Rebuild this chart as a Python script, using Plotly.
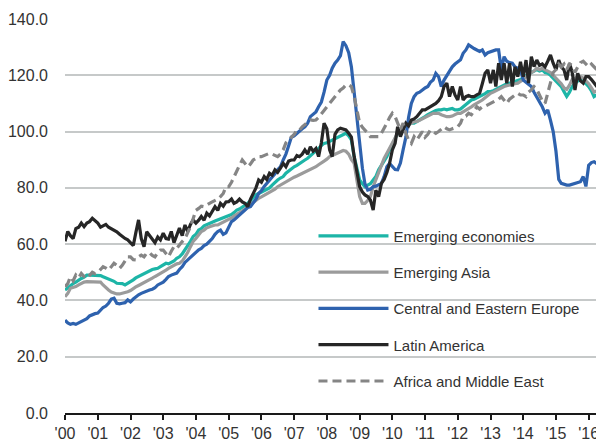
import pandas as pd
import plotly.graph_objects as go

# monthly index values, Jan 2000 - Jun 2016 (one row per year)
emerging_economies = [
    43.7, 44.5, 45.5, 46, 46.5, 47.3, 47.8, 48.3, 49, 49, 49, 49,
    49, 48.8, 48.4, 48, 47.5, 47.3, 46.8, 46.1, 46, 46, 45.5, 46,
    46.5, 47.3, 48, 48.5, 49, 49.5, 50.2, 50.5, 51, 51.2, 51.4, 52,
    52.5, 53.2, 53, 53.5, 54, 55, 55.5, 56.5, 57.9, 59.5, 61, 62.7,
    63.5, 65, 65.5, 66.5, 67, 67.4, 67.8, 68.2, 68.6, 69, 69.5, 69.8,
    70, 70.5, 71.2, 72.1, 72.5, 73, 73.8, 74.5, 75.5, 76.5, 77.5, 78,
    78.5, 78.8, 79.2, 80, 81, 82, 82.8, 83.5, 84, 85.2, 86, 86.5,
    87.5, 88, 88.5, 89.2, 89.9, 90.5, 91.3, 92.3, 93, 94, 95, 95.8,
    96, 96.5, 97, 97.5, 98, 98.2, 99, 99.4, 98.5, 97, 91.1, 86.4,
    82.8, 81.5, 80.4, 81, 81.5, 82.8, 84, 86.4, 88, 90, 91.1, 93.5,
    95.8, 97.5, 99.4, 100.5, 101.7, 102, 102.5, 103, 103, 103.5, 104, 104.5,
    105.3, 106, 106.5, 107, 107.5, 107.7, 107.7, 108, 107.7, 108, 108.2, 107.7,
    107.7, 108, 108.8, 109.5, 110.5, 111.2, 111.5, 112, 112.4, 113, 113.5, 114.2,
    114.2, 114.5, 115, 115.5, 116, 116.5, 117, 117.2, 117.5, 117.8, 118, 118.5,
    119, 120, 120.5, 121, 121.5, 122, 121.5, 121.9, 121, 120.7, 120, 119,
    118, 117, 116, 114.2, 112.5, 114, 116, 117.2, 118, 118.3, 118, 117,
    116, 114.5, 112.4, 113, 113.6, 113,
]

emerging_asia = [
    41.3, 42.5, 44.3, 44.5, 44.9, 45.5, 46.1, 46.5, 46.7, 46.7, 46.7, 46.5,
    46.7, 46.5, 45.5, 44.5, 43.7, 43, 42.5, 42.3, 42.3, 42.5, 43, 43.1,
    43.5, 44.3, 44.8, 45.3, 45.8, 46.1, 46.7, 47.3, 47.9, 48.5, 49, 49.5,
    50, 50.8, 51.4, 52, 52.5, 53, 53.2, 54, 55.5, 57, 59.1, 61,
    62, 63.5, 64.5, 65, 65.8, 66.2, 66.5, 66.8, 66.8, 67.3, 67.8, 68.2,
    68.6, 69.3, 70, 70.5, 71, 71.8, 72.5, 73.3, 74, 75, 75.8, 76.3,
    76.8, 77.3, 78, 78.5, 79, 79.5, 80.4, 81, 81.5, 82.3, 82.8, 83.3,
    83.8, 84.2, 84.6, 85, 85.5, 86, 86.4, 87, 87.5, 88.2, 88.7, 89.5,
    90.2, 91.1, 91.5, 92, 92.5, 93, 93.3, 93, 92, 90, 88.7, 82.8,
    76.9, 74.5, 74.5, 75.5, 76.9, 80.4, 83, 86, 88.7, 90.5, 92.3, 94,
    95.8, 97.5, 99.4, 100.5, 101.7, 102, 102.5, 103, 103.5, 103.5, 104, 104.5,
    105.3, 105.5, 106, 106.5, 106.5, 106.5, 106, 105.5, 105.3, 105.3, 105.5, 106,
    106.5, 106.5, 107, 107.5, 108, 108.8, 109.5, 110, 110.5, 111.2, 112, 112.8,
    113.6, 114, 114.5, 115, 115.5, 116, 116.3, 116.6, 116.8, 117, 117.2, 117.8,
    118.5, 119.5, 120, 121, 121.5, 122.5, 122, 122.5, 122, 121.5, 121, 120,
    119, 118, 117, 115.5, 115, 116.5, 118.5, 119, 119.5, 119.5, 119, 118,
    117, 115.5, 114, 114.5, 115, 115,
]

central_eastern_europe = [
    33, 32, 31.5, 31.8, 31.5, 32, 32.5, 32.8, 33.5, 34.5, 35, 35.3,
    35.5, 36.5, 37.5, 38, 39, 40.5, 40.8, 39, 38.8, 39, 39.2, 40.2,
    39.5, 40.5, 41.3, 42, 42.5, 43, 43.5, 43.7, 44, 44.5, 45.5, 46,
    46.5, 47.5, 48.5, 49, 49.5, 49.7, 51, 52, 53.5, 54.4, 55.5, 56.2,
    57, 58, 58.5, 59.5, 60, 60.9, 62, 63.5, 64.5, 65, 63.5, 64,
    66, 68, 68.6, 69.5, 70.5, 71.5, 72, 73, 73.3, 74.5, 76, 78,
    79, 80.5, 81.5, 82.8, 84, 85, 86.4, 87.5, 89.9, 92, 95, 98,
    98.5, 99.5, 100, 101, 101.7, 103, 105.3, 106, 107, 108.8, 110.5, 114,
    118.3, 120, 122.5, 124.3, 125.4, 127, 132, 130.5, 128, 123, 113.5, 105,
    95, 87, 81.5, 79.2, 79.5, 80.4, 80.6, 81, 81.6, 84, 87.5, 88.7,
    87.5, 86.5, 86.4, 88.8, 93.5, 98, 105, 110, 112.4, 113.6, 114, 114.8,
    115.5, 116, 117.5, 118.3, 120.7, 119.5, 116, 118.3, 120, 121.5, 123, 124,
    124.8, 125.5, 127.8, 129, 130.8, 130, 129.5, 129, 128.5, 129, 127.2, 128,
    128.4, 128.8, 129, 129, 122, 126.6, 125, 124.5, 124.3, 123, 122.5, 122,
    118.3, 117.5, 116.5, 116, 114, 112.4, 110.5, 108.8, 106.5, 107.7, 104, 100,
    93, 83, 81.6, 81.3, 81, 81, 81.3, 81.6, 81.8, 82.2, 84, 80.5,
    88, 89, 89.3, 88.7, 88, 88,
]

latin_america = [
    61, 64.5, 63, 62, 65.5, 66, 67.5, 66.2, 67.5, 68, 69.2, 68.5,
    67.5, 66, 66.5, 67, 66, 65.5, 65, 64.4, 63.5, 62.7, 62, 61.5,
    60.5, 59.5, 64, 68.6, 62, 59.1, 64.4, 63, 61.8, 60.5, 62.5, 61.5,
    63.9, 62, 61.8, 64.5, 60.5, 63, 65.7, 63, 66.8, 64.5, 67, 68.6,
    67.5, 68.5, 69.8, 68.5, 71, 70, 71.5, 73.3, 72, 74.5, 73.5, 75,
    75.1, 76, 74.5, 75, 76, 75, 74.5, 73.3, 76, 78, 80, 82.8,
    82, 84, 83, 85.2, 84.5, 86.4, 85.5, 87, 88.7, 87.5, 89.5, 89.9,
    89.9, 91.5, 91.1, 92, 93.5, 92, 94.6, 93, 94, 91.1, 96, 103,
    101, 93.5, 91.1, 99, 100.6, 101.2, 101, 100.6, 99.4, 98, 91.1, 86,
    80.4, 78.5, 77.5, 76.9, 75.7, 72.1, 79.2, 76.9, 81.6, 83, 85.5, 88.7,
    93.5, 95.8, 101.7, 98.2, 100.6, 103, 102, 104.1, 104.5, 105.3, 106.5, 107.7,
    107.7, 108.3, 108.8, 109.5, 110, 111, 112.4, 116, 117.2, 112.4, 116, 113,
    111.2, 116, 111.2, 112.4, 112.8, 112.4, 112.4, 113, 113.6, 117, 120.7, 121.9,
    117.2, 121.9, 116, 124.3, 118.3, 124.3, 117.2, 124.3, 116, 123, 119.5, 124.8,
    119.5, 125.4, 117.2, 126.6, 123.1, 125.4, 123.5, 124, 123, 125, 127.2, 124.3,
    121.9, 125.4, 123, 121.9, 118.3, 124.3, 121, 114.8, 120.7, 118, 117.2, 119.5,
    119.5, 118.5, 117.2, 116, 118.3, 117,
]

africa_middle_east = [
    44.9, 46, 48.4, 47, 49, 48, 49.6, 48.5, 47.9, 49, 50, 49.5,
    50, 51, 52, 51.5, 50.8, 52, 53.2, 52.5, 51.4, 52.5, 54, 55.5,
    55.5, 54.5, 54.4, 55.5, 56.1, 55.5, 56.8, 57, 56, 55.5, 57, 57.9,
    57.9, 56.5, 55.5, 57.5, 59.1, 58.5, 59.5, 60.9, 62, 64, 66.2, 69,
    72, 72.7, 73.5, 73.3, 74, 74.5, 75, 75.5, 76, 76.9, 78, 80.4,
    80.4, 82, 84, 86.4, 88, 89.9, 88.5, 87.5, 88.5, 89.9, 90.5, 91.1,
    91.1, 91.5, 92, 92.3, 92, 91.5, 91.1, 92, 93.5, 96, 97, 98.2,
    99, 100.6, 100.5, 101.7, 102.5, 103, 104.1, 104, 104.1, 105, 106.5, 107.5,
    108.8, 110, 111, 112.4, 113.5, 114.8, 115.5, 116.6, 116.6, 116, 112.4, 107.7,
    103, 101.5, 100.6, 99.4, 98.2, 98.2, 98.2, 98.2, 99.4, 101, 103, 105,
    106.5, 105.3, 103, 100.6, 103, 99.4, 97, 95.8, 98.2, 97, 98.5, 100,
    98, 99, 100.6, 100, 99.4, 100, 101, 101.7, 101, 100.6, 101, 101.5,
    101.7, 103, 105.3, 105.5, 106.5, 106, 107.5, 108.8, 108, 108.8, 109, 109.5,
    110, 110.5, 111.2, 111.5, 112.4, 111, 110, 111.5, 112.4, 113, 113.6, 113,
    113, 112.4, 114, 114.8, 116, 115, 113, 111, 110, 114, 118, 121,
    122, 124, 123, 124, 122, 124, 123.5, 121, 123, 124.5, 125, 124,
    123, 124, 123, 122, 121.5, 121,
]

series_names = [
    "Emerging economies",
    "Emerging Asia",
    "Central and Eastern Europe",
    "Latin America",
    "Africa and Middle East",
]
tick_years = list(range(2000, 2017))
tick_labels = [f"'{y % 100:02d}" for y in tick_years]

months = pd.date_range("2000-01-01", periods=len(emerging_economies), freq="MS")

FONT = "Liberation Sans, Arial, sans-serif"
styles = [
    dict(color="#1DB5A7", width=3.2),
    dict(color="#9B9B9B", width=3.2),
    dict(color="#2E62AE", width=3.2),
    dict(color="#262626", width=3.2),
    dict(color="#858585", width=3.2, dash="9px,5px"),
]
values = [emerging_economies, emerging_asia, central_eastern_europe,
          latin_america, africa_middle_east]

fig = go.Figure()
for name, vals, style in zip(series_names, values, styles):
    fig.add_trace(go.Scatter(
        x=months, y=vals, name=name, mode="lines",
        line=style, legendgroup=name,
    ))

# page body adds an 8px margin, so the figure is sized 8px short each way
fig.update_layout(
    width=596,
    height=435,
    margin=dict(l=55, r=0, t=11, b=30),
    paper_bgcolor="white",
    plot_bgcolor="white",
    font=dict(family=FONT, size=16, color="#333333"),
    showlegend=True,
    legend=dict(
        x=0.461, y=0.491, xanchor="left", yanchor="top",
        bgcolor="rgba(0,0,0,0)", borderwidth=0,
        traceorder="grouped", tracegroupgap=13.8, itemwidth=70,
        font=dict(family=FONT, size=15, color="#333333"),
    ),
)
fig.update_xaxes(
    range=["2000-01-01", "2016-06-20"],
    tickvals=[f"{y}-01-01" for y in tick_years],
    ticktext=tick_labels,
    showgrid=False,
    showline=True, linecolor="#1a1a1a", linewidth=2,
    ticks="outside", ticklen=5, tickwidth=1.5, tickcolor="#1a1a1a",
    zeroline=False,
)
fig.update_yaxes(
    range=[0, 140],
    tickvals=[0, 20, 40, 60, 80, 100, 120, 140],
    tickformat=".1f",
    showgrid=True, gridcolor="#C6C9C9", gridwidth=2,
    showline=False, zeroline=False,
    ticks="", ticklabelstandoff=16,
)

fig.write_html("out.html")
